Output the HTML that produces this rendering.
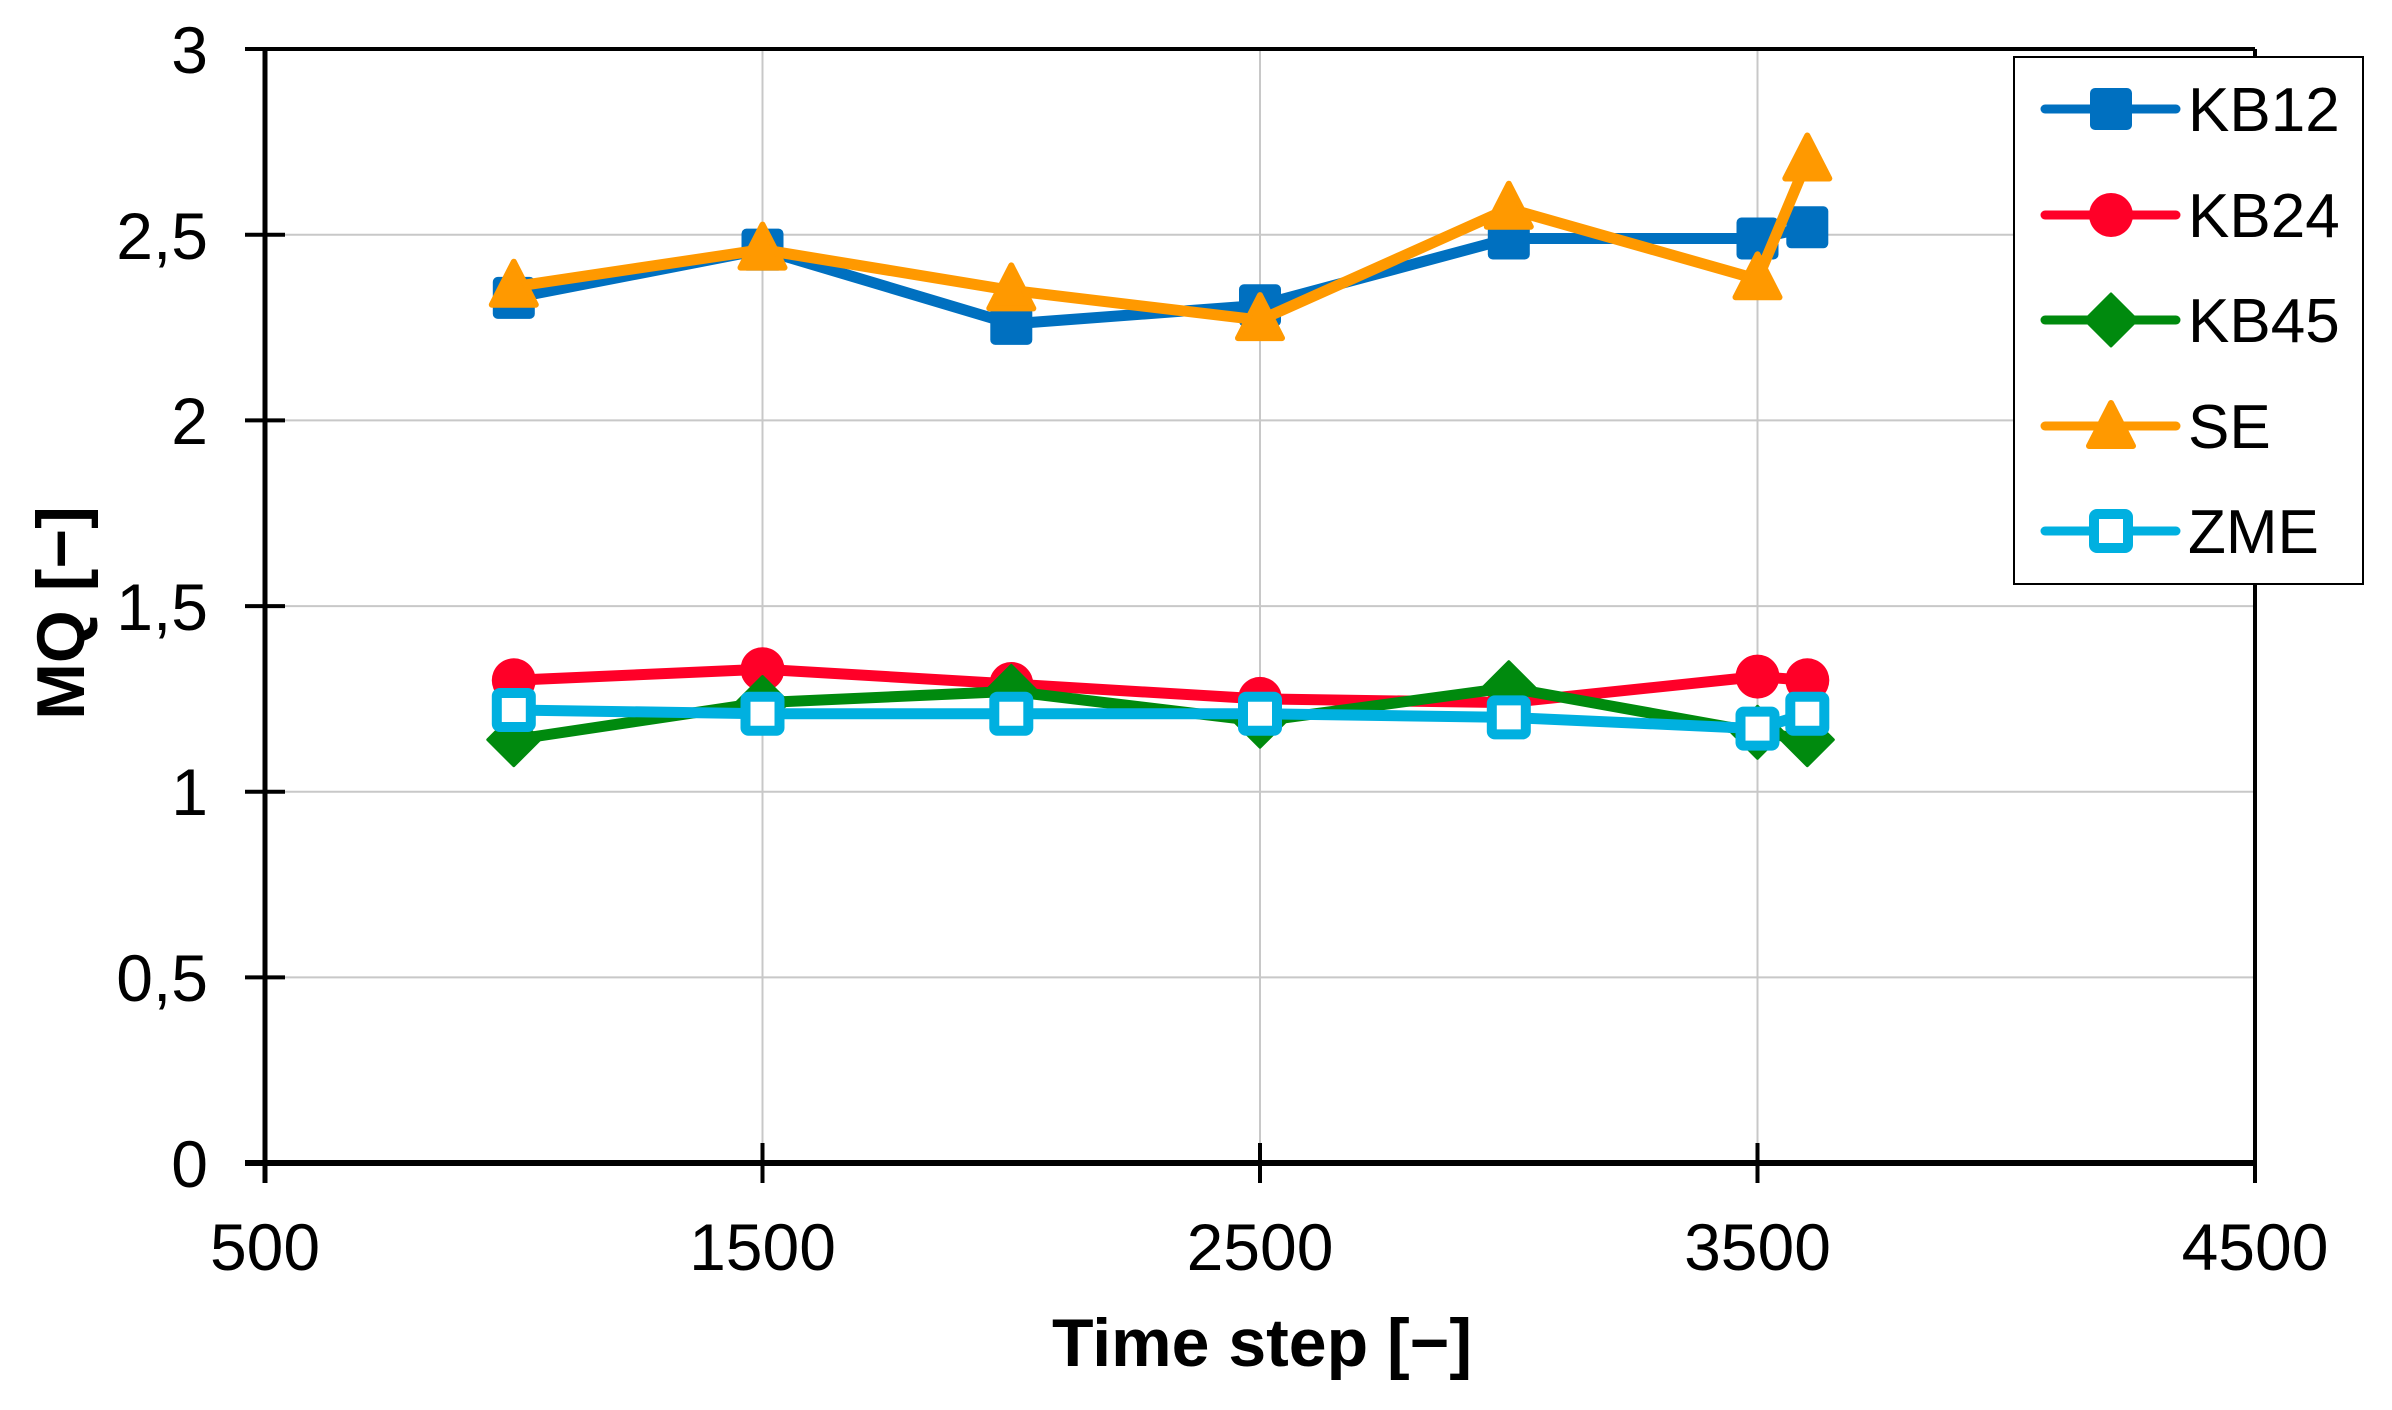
<!DOCTYPE html>
<html><head><meta charset="utf-8"><style>
html,body{margin:0;padding:0;background:#fff}
svg{display:block}
text{font-family:"Liberation Sans",Arial,sans-serif}
</style></head><body>
<svg width="2392" height="1410" viewBox="0 0 2392 1410" xmlns="http://www.w3.org/2000/svg">
<defs>
<rect id="sq" x="-21" y="-21" width="42" height="42" rx="5" fill="#0070C0"/>
<circle id="ci" r="22" fill="#FF0028"/>
<path id="di" d="M0,-26 L26,0 L0,26 L-26,0 Z" fill="#008A0E" stroke="#008A0E" stroke-width="3" stroke-linejoin="round"/>
<path id="tr" d="M0,-25 L22,18 L-22,18 Z" fill="#FF9900" stroke="#FF9900" stroke-width="6" stroke-linejoin="round"/>
<rect id="os" x="-17" y="-17" width="34" height="34" rx="3" fill="#fff" stroke="#00B0E0" stroke-width="10"/>
</defs>
<g stroke="#c8c8c8" stroke-width="2">
<line x1="265" y1="977.4" x2="2255" y2="977.4"/>
<line x1="265" y1="791.7" x2="2255" y2="791.7"/>
<line x1="265" y1="606.1" x2="2255" y2="606.1"/>
<line x1="265" y1="420.4" x2="2255" y2="420.4"/>
<line x1="265" y1="234.8" x2="2255" y2="234.8"/>
<line x1="762.5" y1="49" x2="762.5" y2="1163"/>
<line x1="1260" y1="49" x2="1260" y2="1163"/>
<line x1="1757.5" y1="49" x2="1757.5" y2="1163"/>
</g>
<g stroke="#000" fill="none">
<line x1="265" y1="49" x2="2255" y2="49" stroke-width="4"/>
<line x1="2255" y1="49" x2="2255" y2="1183" stroke-width="4"/>
<line x1="265" y1="47" x2="265" y2="1183" stroke-width="5"/>
<line x1="245" y1="1163" x2="2257" y2="1163" stroke-width="6"/>
<g stroke-width="4">
<line x1="245" y1="49" x2="285" y2="49"/>
<line x1="245" y1="234.8" x2="285" y2="234.8"/>
<line x1="245" y1="420.4" x2="285" y2="420.4"/>
<line x1="245" y1="606.1" x2="285" y2="606.1"/>
<line x1="245" y1="791.7" x2="285" y2="791.7"/>
<line x1="245" y1="977.4" x2="285" y2="977.4"/>
<line x1="762.5" y1="1143" x2="762.5" y2="1183"/>
<line x1="1260" y1="1143" x2="1260" y2="1183"/>
<line x1="1757.5" y1="1143" x2="1757.5" y2="1183"/>
</g>
</g>
<g font-size="66" text-anchor="end" fill="#000">
<text x="208" y="73">3</text>
<text x="208" y="259">2,5</text>
<text x="208" y="444">2</text>
<text x="208" y="630">1,5</text>
<text x="208" y="815">1</text>
<text x="208" y="1001">0,5</text>
<text x="208" y="1187">0</text>
</g>
<g font-size="66" text-anchor="middle" fill="#000">
<text x="265" y="1270">500</text>
<text x="762.5" y="1270">1500</text>
<text x="1260" y="1270">2500</text>
<text x="1757.5" y="1270">3500</text>
<text x="2255" y="1270">4500</text>
</g>
<text x="1262" y="1366" font-size="68" font-weight="bold" text-anchor="middle">Time step [−]</text>
<text transform="translate(84,613) rotate(-90)" font-size="68" font-weight="bold" text-anchor="middle">MQ [−]</text>
<g fill="none" stroke-width="11" stroke-linejoin="round" stroke-linecap="round">
<polyline stroke="#0070C0" points="513.8,297.9 762.5,249.6 1011.3,323.9 1260,305.3 1508.8,238.5 1757.5,238.5 1807.3,227.3"/>
</g>
<g><use href="#sq" x="513.8" y="297.9"/><use href="#sq" x="762.5" y="249.6"/><use href="#sq" x="1011.3" y="323.9"/><use href="#sq" x="1260" y="305.3"/><use href="#sq" x="1508.8" y="238.5"/><use href="#sq" x="1757.5" y="238.5"/><use href="#sq" x="1807.3" y="227.3"/></g>
<polyline fill="none" stroke="#FF0028" stroke-width="11" stroke-linejoin="round" points="513.8,680.3 762.5,669.2 1011.3,684 1260,698.9 1508.8,702.6 1757.5,676.6 1807.3,680.3"/>
<g><use href="#ci" x="513.8" y="680.3"/><use href="#ci" x="762.5" y="669.2"/><use href="#ci" x="1011.3" y="684"/><use href="#ci" x="1260" y="698.9"/><use href="#ci" x="1508.8" y="702.6"/><use href="#ci" x="1757.5" y="676.6"/><use href="#ci" x="1807.3" y="680.3"/></g>
<polyline fill="none" stroke="#008A0E" stroke-width="11" stroke-linejoin="round" points="513.8,739.7 762.5,702.6 1011.3,691.4 1260,721.2 1508.8,687.7 1757.5,732.3 1807.3,739.7"/>
<g><use href="#di" x="513.8" y="739.7"/><use href="#di" x="762.5" y="702.6"/><use href="#di" x="1011.3" y="691.4"/><use href="#di" x="1260" y="721.2"/><use href="#di" x="1508.8" y="687.7"/><use href="#di" x="1757.5" y="732.3"/><use href="#di" x="1807.3" y="739.7"/></g>
<polyline fill="none" stroke="#FF9900" stroke-width="11" stroke-linejoin="round" points="513.8,286.7 762.5,249.6 1011.3,290.4 1260,320.1 1508.8,208.7 1757.5,279.3 1807.3,160.5"/>
<g><use href="#tr" x="513.8" y="286.7"/><use href="#tr" x="762.5" y="249.6"/><use href="#tr" x="1011.3" y="290.4"/><use href="#tr" x="1260" y="320.1"/><use href="#tr" x="1508.8" y="208.7"/><use href="#tr" x="1757.5" y="279.3"/><use href="#tr" x="1807.3" y="160.5"/></g>
<polyline fill="none" stroke="#00B0E0" stroke-width="11" stroke-linejoin="round" points="513.8,710 762.5,713.7 1011.3,713.7 1260,713.7 1508.8,717.4 1757.5,728.6 1807.3,713.7"/>
<g><use href="#os" x="513.8" y="710"/><use href="#os" x="762.5" y="713.7"/><use href="#os" x="1011.3" y="713.7"/><use href="#os" x="1260" y="713.7"/><use href="#os" x="1508.8" y="717.4"/><use href="#os" x="1757.5" y="728.6"/><use href="#os" x="1807.3" y="713.7"/></g>
<rect x="2014" y="57" width="349" height="527" fill="#fff" stroke="#000" stroke-width="2"/>
<g stroke-width="9" stroke-linecap="round">
<line x1="2045" y1="109" x2="2176" y2="109" stroke="#0070C0"/>
<line x1="2045" y1="215" x2="2176" y2="215" stroke="#FF0028"/>
<line x1="2045" y1="320" x2="2176" y2="320" stroke="#008A0E"/>
<line x1="2045" y1="426" x2="2176" y2="426" stroke="#FF9900"/>
<line x1="2045" y1="531" x2="2176" y2="531" stroke="#00B0E0"/>
</g>
<use href="#sq" x="2111" y="109"/>
<use href="#ci" x="2111" y="215"/>
<use href="#di" x="2111" y="320"/>
<use href="#tr" x="2111" y="428"/>
<use href="#os" x="2111" y="531"/>
<g font-size="62" fill="#000">
<text x="2188" y="131">KB12</text>
<text x="2188" y="237">KB24</text>
<text x="2188" y="342">KB45</text>
<text x="2188" y="448">SE</text>
<text x="2188" y="553">ZME</text>
</g>
</svg>
</body></html>
